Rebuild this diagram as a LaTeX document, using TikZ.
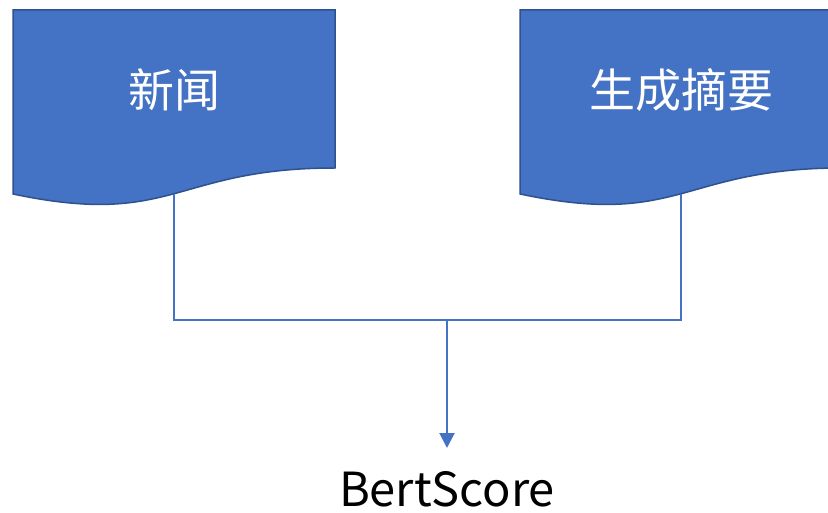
\documentclass[tikz,border=0pt]{standalone}
\usepackage{fontspec}
\setmainfont{Noto Sans CJK SC}
\usetikzlibrary{arrows.meta}
\definecolor{blu}{HTML}{4472C4}
\definecolor{bord}{HTML}{2F528F}
\tikzset{
  docshape/.style={fill=blu, draw=bord, line width=1.5pt},
  doctext/.style={text=white, font=\fontsize{46}{50}\selectfont, inner sep=0pt},
  conn/.style={draw=blu, line width=2pt},
}
\begin{document}
\begin{tikzpicture}[x=1pt,y=-1pt]
\useasboundingbox (0,0) rectangle (828,513);
\clip (0,0) rectangle (828,513);
% left document
\path[docshape] (13,10) -- (335,10) -- (335,168) .. controls (174,168) and (174,228) .. (13,194) -- cycle;
\node[doctext] (news) at (174,90) {新闻};
\coordinate (lb) at (174,194);
% right document
\path[docshape] (520,10) -- (842,10) -- (842,168) .. controls (681,168) and (681,228) .. (520,194) -- cycle;
\node[doctext] (summ) at (681,90) {生成摘要};
\coordinate (rb) at (681,194);
% connectors
\coordinate (j) at (447,320);
\coordinate (tip) at (447,448);
\draw[conn] (lb) |- (j) -| (rb);
\draw[conn, -{Triangle[length=15pt,width=15pt]}] (j) -- (tip);
\node[anchor=base, font=\fontsize{47}{50}\selectfont, inner sep=0pt, text depth=0pt] (bert) at (447,506) {BertScore};
\end{tikzpicture}
\end{document}
